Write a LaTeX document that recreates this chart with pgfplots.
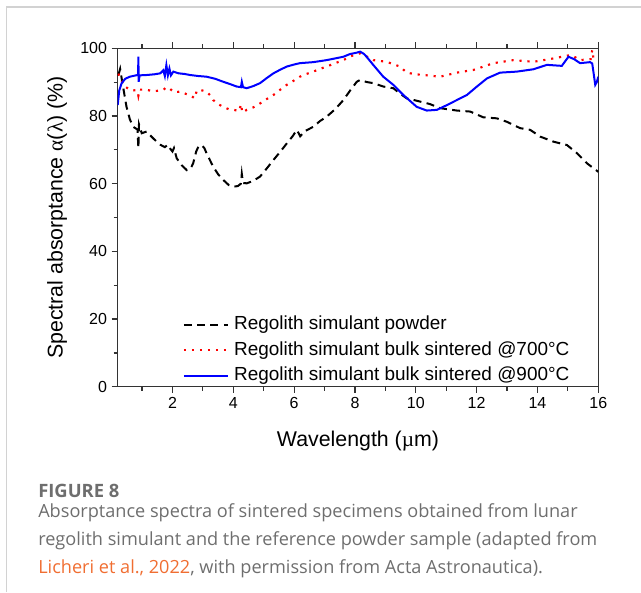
\documentclass[border=0pt]{standalone}
\usepackage{fontspec}
\setmainfont{Liberation Sans}
\newfontfamily\capfont{Open Sans}
\newfontfamily\greek{Liberation Serif}
\usepackage{pgfplots}
\pgfplotsset{compat=1.18}
\definecolor{capgray}{RGB}{110,110,110}
\definecolor{linkorange}{RGB}{240,110,50}
\definecolor{framegray}{RGB}{210,210,210}
\begin{document}
\begin{tikzpicture}[x=0.75pt,y=0.75pt]
\useasboundingbox (0,0) rectangle (641,592);
\draw[framegray,line width=0.9pt] (6.7,0) -- (6.7,585) -- (641,585);
\begin{axis}[
  at={(88.275pt,153.9pt)}, anchor=south west,
  scale only axis, width=360.45pt, height=253.9pt,
  xmin=0.2, xmax=16, ymin=0, ymax=100,
  xtick={2,4,...,16}, minor xtick={1,3,...,15},
  ytick={0,20,...,100}, minor ytick={10,30,...,90},
  xtick pos=both, ytick pos=left, tick align=outside,
  major tick length=4.5pt, minor tick length=3pt,
  axis line style={line width=0.9pt, black!80},
  every tick/.style={line width=0.9pt, black!80},
  /pgf/number format/assume math mode=true,
  ticklabel style={font=\fontsize{12}{12}\selectfont},
  xlabel={Wavelength ({\greek µ}m)},
  ylabel={Spectral absorptance {\greek α}({\greek λ}) (\%)},
  label style={font=\fontsize{16}{16}\selectfont},
  xlabel style={at={(axis description cs:0.5,-0.16)}, anchor=center},
  ylabel style={at={(axis description cs:-0.1263,0.5)}, anchor=center},
  clip=true,
  legend cell align=left,
  legend image code/.code={\draw[#1] (0pt,0pt) -- (33pt,0pt); \path (35.5pt,0pt);},
  legend style={at={(axis cs:2.33,21.6)}, anchor=north west, draw=none, fill=none,
    font=\fontsize{14.2}{14.2}\selectfont, row sep=2.5pt, inner sep=0pt,
    nodes={inner sep=1.5pt, text height=10.5pt, text depth=3pt}},
]
\addplot[black, line width=1.5pt, dash pattern=on 6pt off 4pt] coordinates {
(0.22,92) (0.28,93.9) (0.35,90) (0.49,82.7) (0.6,79) (0.71,76.8) (0.85,76) (0.88,70.5) (0.9,77.5) (0.99,74.9) (1.15,75.4) (1.3,74) (1.48,72.4) (1.6,71.5) (1.75,70.8) (1.85,71.5) (1.92,70.4) (2.0,69.5) (2.05,70.5) (2.14,67.5) (2.3,65.5) (2.47,64.0) (2.6,64.5) (2.68,66.0) (2.78,69.5) (2.85,70.9) (2.96,71.4) (3.05,70.5) (3.12,69.0) (3.34,65.0) (3.5,62.8) (3.67,61.1) (3.85,59.6) (4.0,59.1) (4.15,59.3) (4.25,60.0) (4.28,62.9) (4.32,60.2) (4.44,60.1) (4.65,60.8) (4.88,62.1) (5.1,64.5) (5.32,67.0) (5.55,69.5) (5.76,71.9) (5.95,74.0) (6.09,75.9) (6.2,74.0) (6.35,75.5) (6.63,76.8) (6.85,78.5) (7.07,79.8) (7.35,82.0) (7.62,84.7) (7.84,87.5) (8.06,90.1) (8.16,90.6) (8.4,90.0) (8.6,89.7) (8.93,88.7) (9.26,88.2) (9.5,86.5) (9.70,85.2) (10.03,84.5) (10.47,83.5) (10.8,82.3) (11.35,81.6) (11.79,81.3) (12.22,79.6) (12.66,79.3) (12.99,78.3) (13.43,76.4) (13.76,75.9) (14.09,73.9) (14.53,72.4) (14.97,71.4) (15.3,69.0) (15.63,66.0) (15.85,64.5) (16.0,63.5)
};
\addlegendentry{Regolith simulant powder}
\addplot[red, line width=1.6pt, dash pattern=on 1.6pt off 4.4pt] coordinates {
(0.22,92.5) (0.27,91.6) (0.4,89) (0.6,87.7) (0.85,87.5) (0.88,86.0) (0.92,87.8) (1.15,87.7) (1.4,87.3) (1.70,87.7) (1.8,88.5) (1.92,88.0) (2.05,87.0) (2.25,87.2) (2.45,86.5) (2.58,86.2) (2.73,85.2) (2.8,87.5) (2.85,87.7) (3.0,87.5) (3.12,87.2) (3.25,86) (3.34,84.7) (3.5,83.5) (3.67,82.7) (3.85,82.0) (4.0,81.8) (4.2,81.5) (4.25,83.5) (4.3,81.0) (4.44,81.8) (4.65,82.5) (4.88,83.7) (5.1,85) (5.32,86.2) (5.55,87.8) (5.76,89.2) (6.0,90.5) (6.19,91.6) (6.4,92.4) (6.63,93.1) (6.85,93.9) (7.07,94.6) (7.35,95.6) (7.62,96.5) (7.84,97.6) (8.06,98.2) (8.17,98.5) (8.4,97.5) (8.6,96.5) (9.04,96.0) (9.48,94.6) (9.70,92.8) (10.0,92.3) (10.25,92.1) (10.8,91.6) (11.35,92.8) (11.9,93.6) (12.55,95.6) (13.21,96.5) (13.87,96.0) (14.53,97.0) (15.08,98.0) (15.25,97.3) (15.4,96.5) (15.75,96.8) (15.8,99.5) (15.84,97.0) (16.0,96.8)
};
\addlegendentry{Regolith simulant bulk sintered @700°C}
\addplot[blue, line width=1.5pt] coordinates {
(0.2,83.2) (0.25,87.5) (0.33,89.7) (0.45,91) (0.6,91.6) (0.8,92) (0.87,92.1) (0.88,97.5) (0.89,90.1) (0.92,92) (1.15,92.1) (1.4,92.3) (1.6,92.6) (1.7,93.5) (1.75,91.8) (1.8,95.0) (1.85,92) (1.9,94) (1.95,92) (2.03,93.1) (2.2,92.6) (2.4,92.4) (2.58,92.1) (2.85,91.8) (3.12,91.6) (3.4,91) (3.67,90.1) (3.9,89.4) (4.11,88.7) (4.25,88.5) (4.28,90.1) (4.32,88.5) (4.44,88.2) (4.65,88.8) (4.88,89.7) (5.1,91.2) (5.32,92.6) (5.55,93.7) (5.76,94.6) (6.0,95.2) (6.19,95.6) (6.63,95.9) (7.07,96.5) (7.35,97) (7.62,97.5) (7.84,98.3) (8.06,98.7) (8.17,99.0) (8.3,98.3) (8.38,97.5) (8.6,95.1) (8.93,91.6) (9.26,89.2) (9.59,86.2) (10.03,82.7) (10.36,81.6) (10.69,81.8) (11.02,83.2) (11.35,84.7) (11.68,86.2) (12.01,88.7) (12.34,91.1) (12.77,92.8) (13.32,93.1) (13.87,93.8) (14.31,95.1) (14.8,94.8) (15.02,97.5) (15.2,96.8) (15.4,95.6) (15.73,95.9) (15.8,95.5) (15.9,89.2) (15.95,90) (16.0,91.6)
};
\addlegendentry{Regolith simulant bulk sintered @900°C}
\end{axis}
\node[anchor=base west, inner sep=0pt, text=capgray, font=\capfont\fontsize{13.8}{13.8}\selectfont\bfseries] at (38,95) {FIGURE 8};
\node[anchor=base west, inner sep=0pt, text=capgray, font=\capfont\fontsize{13.6}{13.6}\selectfont] at (38,75) {Absorptance spectra of sintered specimens obtained from lunar};
\node[anchor=base west, inner sep=0pt, text=capgray, font=\capfont\fontsize{13.6}{13.6}\selectfont] at (38,47) {regolith simulant and the reference powder sample (adapted from};
\node[anchor=base west, inner sep=0pt, text=capgray, font=\capfont\fontsize{13.6}{13.6}\selectfont] at (38,19) {\textcolor{linkorange}{Licheri et al., 2022}, with permission from Acta Astronautica).};
\end{tikzpicture}
\end{document}
